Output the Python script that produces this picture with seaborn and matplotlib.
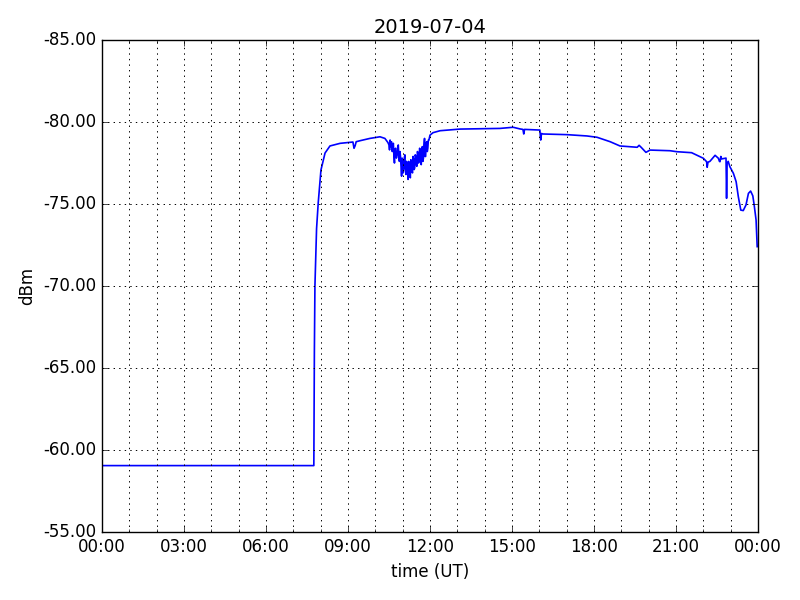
import matplotlib
matplotlib.use("Agg")
import matplotlib.pyplot as plt
import matplotlib.dates as mdates
import matplotlib.ticker as mticker
import seaborn as sns
import pandas as pd

title = "2019-07-04"
y_ticks = [-85, -80, -75, -70, -65, -60, -55]

hours = [0.0, 7.75, 7.77, 7.79, 7.85, 7.91, 8.01, 8.16, 8.34, 8.71, 9.07, 9.18, 9.22, 9.26, 9.30,
         9.44, 9.80, 10.17, 10.35, 10.46,
         10.50, 10.52, 10.54, 10.56, 10.59, 10.62, 10.64, 10.66, 10.68, 10.70, 10.72, 10.74,
         10.77, 10.80, 10.82, 10.84, 10.86, 10.88, 10.90, 10.92, 10.94, 10.96, 10.98, 11.00,
         11.02, 11.04, 11.06, 11.08, 11.10, 11.12, 11.14, 11.16, 11.18, 11.20, 11.22, 11.24,
         11.26, 11.28, 11.30, 11.32, 11.34, 11.36, 11.38, 11.40, 11.42, 11.44, 11.46, 11.48,
         11.50, 11.52, 11.54, 11.56, 11.58, 11.60, 11.62, 11.64, 11.66, 11.68, 11.70, 11.72,
         11.74, 11.76, 11.78, 11.80, 11.82, 11.84, 11.86, 11.88, 11.90, 11.92, 11.94, 11.96,
         12.00, 12.11, 12.37, 13.10, 14.56, 15.04, 15.29, 15.40, 15.43, 15.46, 15.95, 16.02,
         16.05, 16.08, 16.13, 16.60, 17.01, 17.74, 18.11, 18.59, 18.95, 19.58, 19.65, 19.73,
         19.90, 20.05, 20.78, 21.03, 21.57, 22.00, 22.12, 22.14, 22.17, 22.24, 22.43, 22.55,
         22.59, 22.61, 22.64, 22.67, 22.79, 22.83, 22.85, 22.87, 22.91, 22.97, 23.10, 23.20,
         23.28, 23.37, 23.46, 23.56, 23.65, 23.73, 23.81, 23.86, 23.93, 23.97]
dbm = [-59.05, -59.05, -66.0, -70.0, -73.5, -75.06, -77.07, -78.11, -78.54, -78.70, -78.76, -78.78,
       -78.40, -78.55, -78.80, -78.86, -79.00, -79.10, -79.00, -78.75,
       -78.6, -78.3, -78.9, -78.5, -78.8, -78.2, -78.6, -78.7, -77.9, -77.5, -78.3, -78.4,
       -77.8, -78.0, -78.5, -78.6, -77.9, -77.6, -78.2, -77.9, -77.3, -76.7, -77.8, -77.6,
       -76.9, -77.2, -77.8, -78.0, -77.1, -76.8, -77.6, -77.4, -76.9, -76.5, -77.6, -77.3,
       -76.9, -76.6, -77.7, -77.5, -77.0, -76.9, -77.9, -77.7, -77.1, -77.2, -78.0, -77.9,
       -77.4, -77.3, -78.2, -78.1, -77.5, -77.6, -78.4, -78.3, -77.7, -77.4, -78.4, -78.5,
       -77.6, -77.8, -78.6, -79.0, -77.9, -77.9, -78.7, -78.8, -78.2, -78.4, -78.9, -78.9,
       -79.2, -79.35, -79.47, -79.57, -79.61, -79.68, -79.58, -79.55, -79.27, -79.55, -79.51, -79.51,
       -78.9, -79.3, -79.27, -79.25, -79.23, -79.15, -79.07, -78.80, -78.54, -78.46, -78.58, -78.45,
       -78.15, -78.29, -78.25, -78.19, -78.13, -77.79, -77.58, -77.24, -77.55, -77.6, -77.97, -77.79,
       -77.6, -77.58, -77.9, -77.75, -77.79, -77.8, -75.35, -77.5, -77.6, -77.28, -76.87, -76.36,
       -75.45, -74.63, -74.6, -74.94, -75.65, -75.79, -75.5, -74.94, -74.02, -72.4]

plt.style.use("classic")
base = pd.Timestamp("2019-07-04")
df = pd.DataFrame({"time": base + pd.to_timedelta(hours, unit="h"), "dBm": dbm})

fig = plt.figure(figsize=(8, 6), dpi=100, facecolor="white")
ax = fig.add_axes([0.1275, 0.1133, 0.82, 0.82])
sns.lineplot(data=df, x="time", y="dBm", ax=ax, color="#0000ff", linewidth=1.2)

ax.set_xlim(base, base + pd.Timedelta(hours=24))
ax.set_ylim(-55, -85)
ax.set_yticks(y_ticks)
ax.yaxis.set_major_formatter(mticker.FormatStrFormatter("%.2f"))
ax.xaxis.set_major_locator(mdates.HourLocator(byhour=range(0, 24, 3)))
ax.xaxis.set_minor_locator(mdates.HourLocator())
ax.xaxis.set_major_formatter(mdates.DateFormatter("%H:%M"))
ax.grid(True, which="major", color="k", linestyle=":", linewidth=0.7)
ax.grid(True, which="minor", axis="x", color="k", linestyle=":", linewidth=0.7)
ax.tick_params(labelsize=12)
ax.set_xlabel("time (UT)", fontsize=12)
ax.set_ylabel("dBm", fontsize=12)
ax.set_title(title, fontsize=14)
fig.savefig("out.png", dpi=100, facecolor="white")
